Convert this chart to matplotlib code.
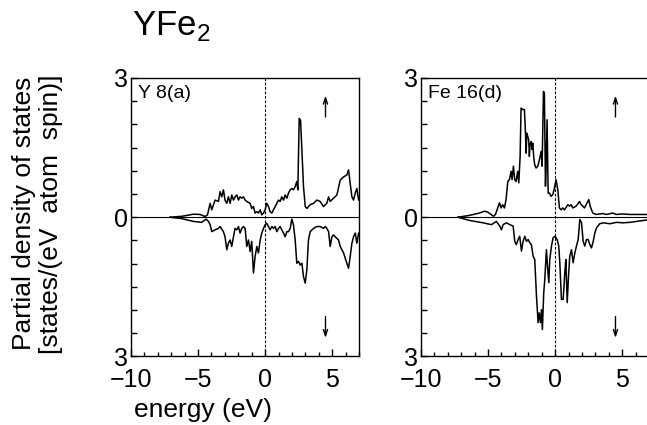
import matplotlib
matplotlib.use("Agg")
import matplotlib.pyplot as plt
from matplotlib.ticker import MultipleLocator

plt.rcParams["font.family"] = ["Liberation Sans", "DejaVu Sans"]
plt.rcParams["mathtext.fontset"] = "custom"
plt.rcParams["mathtext.rm"] = "Liberation Sans"

# Y 8(a) partial DOS
y_up_e = [-7.09, -6.22, -5.35, -4.85, -4.48, -4.30, -4.10, -3.98, -3.73, -3.48, -3.36, -3.23,
          -3.11, -2.99, -2.86, -2.74, -2.61, -2.49, -2.36, -2.24, -2.11, -1.99, -1.87, -1.74,
          -1.62, -1.49, -1.37, -1.12, -1.00, -0.87, -0.75, -0.62, -0.50, -0.37, -0.25, -0.12,
          0.00, 0.12, 0.25, 0.37, 0.50, 0.62, 0.75, 0.87, 1.00, 1.12, 1.24, 1.37, 1.49, 1.62,
          1.74, 1.87, 1.99, 2.11, 2.24, 2.36, 2.44, 2.54, 2.64, 2.74, 2.86, 2.99, 3.11, 3.36,
          3.61, 3.86, 4.10, 4.35, 4.60, 4.73, 4.85, 5.10, 5.35, 5.60, 5.85, 6.09, 6.22, 6.34,
          6.47, 6.59, 6.72, 6.84, 6.97, 7.09]
y_up = [0.0, 0.02, 0.065, 0.06, 0.015, 0.05, 0.30, 0.16, 0.37, 0.34, 0.55, 0.44,
        0.59, 0.37, 0.30, 0.44, 0.30, 0.48, 0.37, 0.44, 0.48, 0.37, 0.44, 0.41,
        0.44, 0.37, 0.34, 0.30, 0.19, 0.23, 0.09, 0.12, 0.09, 0.16, 0.05, 0.09,
        0.16, 0.30, 0.23, 0.12, 0.09, 0.16, 0.23, 0.30, 0.37, 0.34, 0.44, 0.37, 0.48, 0.41,
        0.52, 0.59, 0.62, 0.59, 0.66, 0.77, 0.59, 2.13, 2.09, 1.45, 0.66, 0.23, 0.19, 0.27,
        0.30, 0.37, 0.34, 0.23, 0.30, 0.44, 0.34, 0.41, 0.48, 0.80, 0.87, 0.91, 1.02, 0.73,
        0.44, 0.37, 0.52, 0.62, 0.37, 0.44]

y_dn_e = [-7.09, -6.22, -5.35, -4.73, -4.40, -4.23, -4.10, -3.98, -3.73, -3.48, -3.36, -3.11,
          -2.99, -2.86, -2.74, -2.61, -2.49, -2.36, -2.24, -2.11, -1.99, -1.87, -1.74, -1.62,
          -1.49, -1.37, -1.24, -1.12, -1.00, -0.87, -0.75, -0.62, -0.50, -0.37, -0.25, -0.12,
          0.00, 0.12, 0.25, 0.37, 0.50, 0.62, 0.75, 0.87, 1.00, 1.12, 1.24, 1.37, 1.49, 1.62,
          1.74, 1.87, 1.99, 2.11, 2.24, 2.36, 2.49, 2.61, 2.74, 2.86, 2.99, 3.11, 3.23, 3.36,
          3.61, 3.86, 4.10, 4.35, 4.48, 4.60, 4.73, 4.85, 4.98, 5.10, 5.22, 5.47, 5.60, 5.85,
          6.09, 6.22, 6.34, 6.47, 6.59, 6.72, 6.84, 6.97, 7.09]
y_dn = [0.0, -0.03, -0.09, -0.11, -0.04, -0.09, -0.16, -0.31, -0.27, -0.24, -0.20, -0.31,
        -0.42, -0.70, -0.56, -0.49, -0.63, -0.42, -0.24, -0.27, -0.20, -0.34, -0.24, -0.20,
        -0.24, -0.63, -0.49, -0.74, -0.52, -1.20, -0.85, -0.63, -0.77, -0.49, -0.34, -0.24,
        -0.16, -0.13, -0.20, -0.27, -0.20, -0.24, -0.20, -0.31, -0.24, -0.20, -0.27, -0.34, -0.42, -0.31,
        -0.31, -0.24, -0.04, -0.16, -0.49, -0.99, -0.95, -1.03, -0.99, -1.28, -1.42, -1.13, -0.49, -0.31,
        -0.24, -0.20, -0.20, -0.24, -0.20, -0.24, -0.31, -0.63, -0.42, -0.38, -0.42, -0.49, -0.63, -0.77,
        -0.99, -1.10, -0.85, -0.56, -0.42, -0.34, -0.56, -0.34, -0.42]

# Fe 16(d) partial DOS
fe_up_e = [-7.26, -6.39, -5.65, -5.27, -5.02, -4.78, -4.60, -4.45, -4.28, -4.15, -4.03, -3.91,
           -3.78, -3.66, -3.53, -3.41, -3.28, -3.21, -3.11, -3.01, -2.91, -2.79, -2.71, -2.61,
           -2.54, -2.41, -2.29, -2.21, -2.16, -2.11, -2.04, -1.97, -1.92, -1.87, -1.79, -1.72,
           -1.67, -1.59, -1.52, -1.42, -1.29, -1.17, -1.04, -0.97, -0.87, -0.80, -0.72, -0.67,
           -0.60, -0.52, -0.42, -0.30, -0.17, -0.05, 0.07, 0.20, 0.32, 0.45, 0.57, 0.70, 0.95,
           1.07, 1.19, 1.32, 1.57, 1.82, 1.94, 2.06, 2.19, 2.31, 2.51, 2.61, 2.81, 3.06, 3.56,
           3.81, 4.30, 4.55, 5.05, 5.55, 6.79, 7.10]
fe_up = [0.0, 0.04, 0.09, 0.13, 0.11, 0.06, 0.02, 0.06, 0.20, 0.31, 0.20, 0.27,
         0.20, 0.38, 0.77, 0.81, 0.99, 0.81, 1.10, 0.81, 0.77, 0.99, 0.74, 1.31,
         2.35, 2.32, 2.32, 1.81, 1.38, 1.81, 1.74, 1.67, 1.31, 1.56, 1.63, 1.46,
         1.60, 1.28, 1.13, 1.06, 1.10, 1.24, 1.42, 1.10, 2.71, 2.67, 0.67, 1.10,
         2.10, 0.52, 0.52, 0.45, 0.49, 0.63, 0.81, 0.59, 0.20, 0.16, 0.20, 0.16, 0.27,
         0.24, 0.27, 0.20, 0.24, 0.34, 0.27, 0.24, 0.20, 0.27, 0.38, 0.24, 0.09, 0.06, 0.08,
         0.06, 0.09, 0.06, 0.07, 0.06, 0.06, 0.05]

fe_dn_e = [-7.24, -6.37, -5.37, -4.75, -4.38, -4.13, -4.00, -3.88, -3.63, -3.38, -3.13, -3.01,
           -2.89, -2.76, -2.64, -2.51, -2.39, -2.26, -2.14, -2.01, -1.89, -1.77, -1.64, -1.52,
           -1.39, -1.27, -1.19, -1.09, -1.02, -0.95, -0.85, -0.77, -0.65, -0.57, -0.47, -0.40,
           -0.27, -0.15, 0.00, 0.15, 0.27, 0.35, 0.47, 0.60, 0.72, 0.80, 0.90, 1.00, 1.09,
           1.22, 1.34, 1.47, 1.59, 1.72, 1.84, 1.97, 2.09, 2.21, 2.34, 2.46, 2.59, 2.71, 2.84,
           2.96, 3.08, 3.33, 3.58, 4.08, 4.58, 5.07, 5.57, 6.07, 6.82, 7.10]
fe_dn = [0.0, -0.07, -0.12, -0.16, -0.09, -0.19, -0.27, -0.16, -0.12, -0.16, -0.19, -0.52,
         -0.59, -0.48, -0.41, -0.73, -0.52, -0.41, -0.52, -0.48, -0.55, -0.59, -0.84, -0.91,
         -1.70, -2.27, -2.06, -2.27, -1.99, -2.42, -1.63, -1.34, -0.70, -1.05, -1.41, -0.91,
         -0.62, -0.44, -0.41, -0.48, -0.62, -0.98, -1.77, -1.77, -1.20, -0.91, -1.84, -1.27, -0.84,
         -0.70, -0.98, -0.77, -0.62, -0.48, -0.05, -0.12, -0.52, -0.62, -0.48, -0.48, -0.59, -0.66, -0.52,
         -0.34, -0.23, -0.14, -0.12, -0.14, -0.11, -0.12, -0.11, -0.09, -0.06, -0.06]

panels = [
    ("Y 8(a)", y_up_e, y_up, y_dn_e, y_dn),
    ("Fe 16(d)", fe_up_e, fe_up, fe_dn_e, fe_dn),
]
axes_rects = [
    [0.2025, 0.1612, 0.3524, 0.6553],
    [0.6507, 0.1612, 0.3524, 0.6553],
]

fig = plt.figure(figsize=(6.47, 4.25), dpi=100)
fig.patch.set_facecolor("white")

for (label, ue, uv, de, dv), rect in zip(panels, axes_rects):
    ax = fig.add_axes(rect)
    ax.plot(ue, uv, color="black", lw=1.1)
    ax.plot(de, dv, color="black", lw=1.1)
    ax.axhline(0, color="black", lw=0.8)
    ax.axvline(0, color="black", lw=0.8, ls=(0, (2.5, 1.5)))
    ax.set_xlim(-10, 7)
    ax.set_ylim(-3, 3)

    ax.set_xticks([-10, -5, 0, 5])
    ax.set_xticklabels(["\u221210", "\u22125", "0", "5"])
    ax.xaxis.set_minor_locator(MultipleLocator(1))
    ax.set_yticks([-3, 0, 3])
    ax.set_yticklabels(["3", "0", "3"])
    ax.yaxis.set_minor_locator(MultipleLocator(0.5))
    ax.tick_params(axis="x", which="major", direction="in", length=5, width=1.0,
                   labelsize=18, pad=8.5, top=False)
    ax.tick_params(axis="x", which="minor", direction="in", length=3, width=1.0, top=False)
    ax.tick_params(axis="y", which="major", direction="in", length=4, width=1.0,
                   labelsize=18, pad=2, right=False)
    ax.tick_params(axis="y", which="minor", direction="in", length=4, width=1.0, right=False)
    for sp in ax.spines.values():
        sp.set_linewidth(1.0)

    ax.text(0.03, 0.975, label, transform=ax.transAxes, fontsize=14,
            ha="left", va="top")
    ax.annotate("", xy=(4.5, 2.62), xytext=(4.5, 2.16),
                arrowprops=dict(arrowstyle="->,head_length=0.45,head_width=0.15",
                                lw=1.0, color="black", shrinkA=0, shrinkB=0))
    ax.annotate("", xy=(4.5, -2.6), xytext=(4.5, -2.14),
                arrowprops=dict(arrowstyle="->,head_length=0.45,head_width=0.15",
                                lw=1.0, color="black", shrinkA=0, shrinkB=0))

fig.text(0.204, 0.918, r"YFe$_{\mathrm{2}}$", fontsize=25, ha="left", va="baseline")
fig.text(0.058, 0.497, "Partial density of states\n[states/(eV  atom  spin)]",
         rotation=90, fontsize=19, ha="center", va="center", linespacing=1.15)
fig.text(0.3137, 0.019, "energy (eV)", fontsize=19, ha="center", va="baseline")

fig.savefig("out.png", dpi=100)
